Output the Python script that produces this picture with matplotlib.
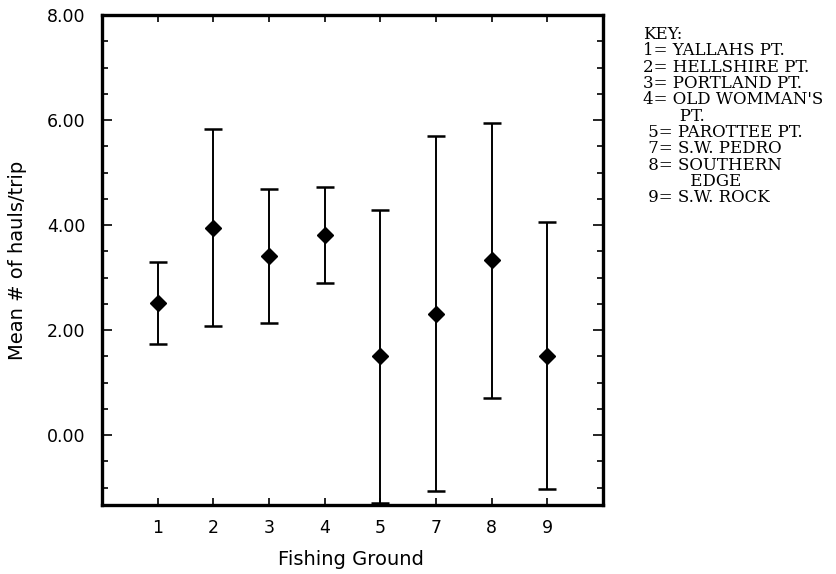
import numpy as np
import matplotlib.pyplot as plt
from matplotlib.ticker import MultipleLocator, FixedLocator

# Fishing grounds and mean hauls per trip
grounds = ["1", "2", "3", "4", "5", "7", "8", "9"]
means = [2.51, 3.95, 3.41, 3.81, 1.50, 2.31, 3.33, 1.51]
errors = [0.78, 1.87, 1.28, 0.91, 2.79, 3.38, 2.62, 2.54]

key_lines = [
    "KEY:",
    "1= YALLAHS PT.",
    "2= HELLSHIRE PT.",
    "3= PORTLAND PT.",
    "4= OLD WOMMAN'S",
    "       PT.",
    " 5= PAROTTEE PT.",
    " 7= S.W. PEDRO",
    " 8= SOUTHERN",
    "         EDGE",
    " 9= S.W. ROCK",
]

W, H = 837, 574
fig = plt.figure(figsize=(W / 100, H / 100), dpi=100)
ax = fig.add_axes([102 / W, 1 - 505 / H, 501 / W, 490 / H])

x = np.arange(1, len(grounds) + 1)
ax.errorbar(x, means, yerr=errors, fmt='D', color='black', markersize=8.5,
            ecolor='black', elinewidth=1.4, capsize=6.5, capthick=1.8,
            clip_on=True)

ax.set_xlim(0, 9)
ax.set_ylim(-1.33, 8.0)
ax.xaxis.set_major_locator(FixedLocator(x))
ax.set_xticklabels(grounds)
ax.yaxis.set_major_locator(MultipleLocator(2))
ax.yaxis.set_minor_locator(MultipleLocator(0.5))
ax.yaxis.set_major_formatter(plt.FuncFormatter(lambda v, p: f"{v:.2f}"))

for side in ax.spines.values():
    side.set_linewidth(2.4)

ax.tick_params(axis='both', which='both', direction='in', top=True, right=True,
               labelsize=12.5, width=1.2)
ax.tick_params(axis='y', which='major', length=7, pad=12)
ax.tick_params(axis='y', which='minor', length=4)
ax.tick_params(axis='x', which='major', length=5, pad=10)

ax.set_xlabel("Fishing Ground", fontsize=14)
ax.set_ylabel("Mean # of hauls/trip", fontsize=14)
ax.xaxis.label.set_verticalalignment('center')
ax.yaxis.label.set_verticalalignment('center')
ax.xaxis.set_label_coords(0.497, -0.112)
ax.yaxis.set_label_coords(-0.168, 0.5)

# key block on the right
fig.text(643 / W, 1 - 26 / H, "\n".join(key_lines), fontsize=12,
         family='DejaVu Serif', ha='left', va='top', linespacing=0.95)

fig.savefig("out.png", dpi=100)
